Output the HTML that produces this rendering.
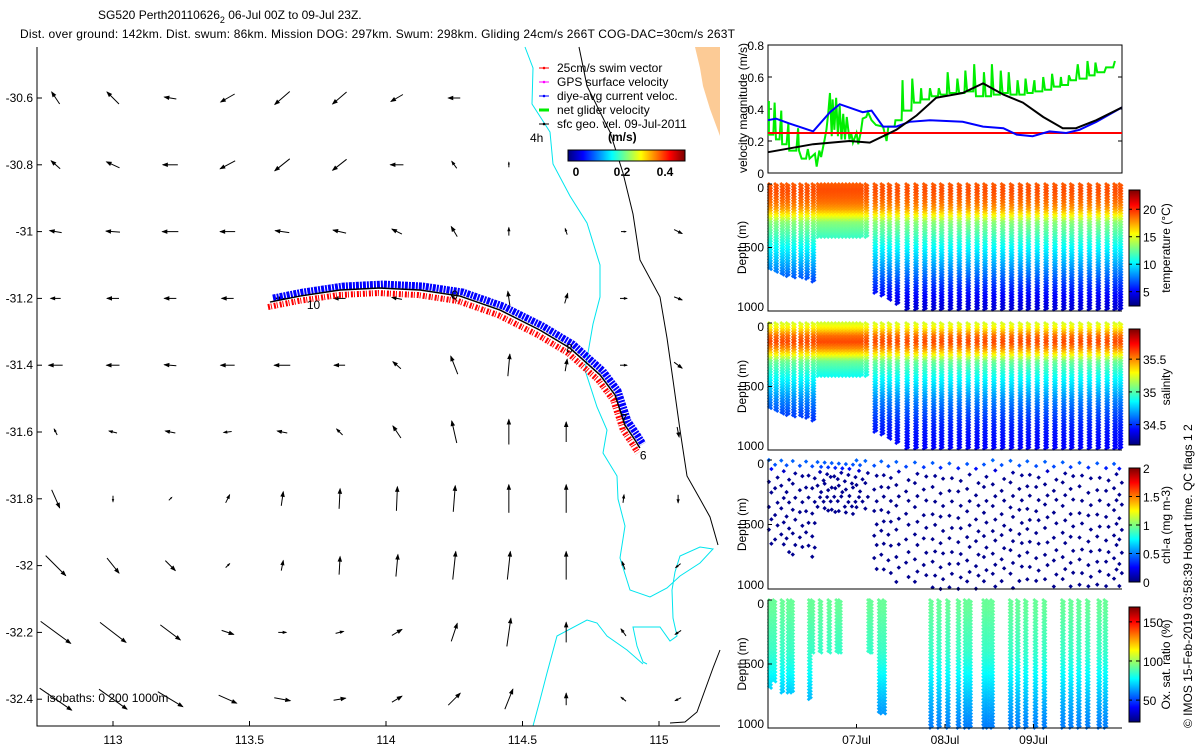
<!DOCTYPE html>
<html><head><meta charset="utf-8"><title>SG520 glider chart</title>
<style>
html,body{margin:0;padding:0;background:#fff;}
svg{display:block;font-family:"Liberation Sans",sans-serif;}
text{fill:#000;}
</style></head>
<body>
<svg id="fig" xmlns="http://www.w3.org/2000/svg" width="1200" height="750" viewBox="0 0 1200 750">
<rect x="0" y="0" width="1200" height="750" fill="#fff"/>
<text x="98" y="19" font-size="12">SG520 Perth20110626<tspan dy="4" font-size="9">2</tspan><tspan dy="-4"> 06-Jul 00Z to 09-Jul 23Z.</tspan></text>
<text x="20" y="38" font-size="12" textLength="715">Dist. over ground: 142km. Dist. swum: 86km. Mission DOG: 297km. Swum: 298km. Gliding 24cm/s 266T COG-DAC=30cm/s 263T</text>
<g id="map"></g>
<g id="right"></g>
<text transform="translate(1192,728) rotate(-90)" font-size="12">© IMOS 15-Feb-2019 03:58:39 Hobart time. QC flags 1  2</text>
</svg>
<script>
// ---------------- DATA ----------------
const gridLat = [-30.6,-30.8,-31.0,-31.2,-31.4,-31.6,-31.8,-32.0,-32.2,-32.4];
const gridLon = [112.79,113.0,113.21,113.42,113.62,113.83,114.04,114.25,114.45,114.66,114.87,115.07];
const geoU = [
 [-0.08,-0.12,-0.12,-0.14,-0.15,-0.14,-0.12,-0.12,-0.01,0,0,0],
 [-0.09,-0.13,-0.15,-0.15,-0.15,-0.14,-0.13,-0.05,0,0,0,0],
 [-0.12,-0.14,-0.16,-0.15,-0.14,-0.13,-0.10,-0.06,0,-0.02,0.05,0.08],
 [-0.10,-0.12,-0.12,-0.12,-0.14,-0.12,-0.10,-0.06,-0.02,0.03,0.07,0.08],
 [-0.14,-0.13,-0.12,-0.14,-0.16,-0.11,-0.08,-0.07,0.02,0.02,0.07,0.08],
 [-0.03,-0.08,-0.10,-0.08,-0.10,-0.06,-0.08,-0.05,0,0,0,0.02],
 [0.08,0,0.03,0.04,0.02,0.01,0.01,0.02,0,0,0.01,0],
 [0.20,0.12,0.10,0.04,0.02,0.01,0.02,0.03,0.03,0,-0.03,-0.05],
 [0.30,0.26,0.20,0.12,0.08,0.08,0.10,0.06,0.04,0,-0.05,-0.06],
 [0.32,0.28,0.25,0.18,0.16,0.12,0.10,0.12,0.08,0,-0.05,-0.06]];
const geoV = [
 [0.12,0.12,0.02,-0.08,-0.13,-0.12,-0.07,0,0,0,0,0],
 [0.08,0.06,0,-0.08,-0.12,-0.11,0,0.07,0.05,0,0,0],
 [0.02,0.01,0,0,0.02,0.03,0.05,0.10,0.08,0.06,0,-0.04],
 [0,0,0,0,0,0,0.02,0.06,0.14,0.10,0,-0.03],
 [0,0,0.01,0,0,0,0.07,0.18,0.22,0.12,0,-0.06],
 [0.06,0.02,0.02,-0.01,0.02,0.06,0.12,0.22,0.25,0.20,0,-0.10],
 [-0.18,-0.06,0.03,0.08,0.14,0.20,0.24,0.26,0.28,0.28,0.08,-0.08],
 [-0.20,-0.15,-0.10,0.04,0.10,0.18,0.22,0.28,0.28,0.28,0.08,-0.04],
 [-0.22,-0.20,-0.15,-0.04,0,0.02,0.06,0.18,0.28,0.20,0.07,-0.04],
 [-0.22,-0.20,-0.15,-0.08,-0.03,0.02,0.06,0.12,0.20,0.12,0.04,-0.03]];
const trackLon = [113.575,113.685,113.832,113.978,114.125,114.271,114.418,114.564,114.674,114.784,114.839,114.857,114.875,114.912,114.930];
const trackLat = [-31.211,-31.193,-31.175,-31.169,-31.175,-31.193,-31.235,-31.295,-31.349,-31.429,-31.489,-31.534,-31.579,-31.624,-31.648];
const dayLabels = ["10","9","8","7","6"];
const dayLon = [113.71,114.24,114.66,114.86,114.93];
const dayLat = [-31.22,-31.19,-31.35,-31.56,-31.67];
const geoT = [0,0.51,0.92,1.15,1.45,1.68,1.90,2.20,2.43,2.66,2.88,3.11,3.33,3.48,3.71,4.0];
const geoMag = [0.13,0.18,0.20,0.19,0.27,0.36,0.47,0.50,0.56,0.49,0.44,0.35,0.28,0.28,0.33,0.41];
const dacT = [0,0.09,0.24,0.51,0.70,0.81,1.07,1.17,1.30,1.45,1.60,1.83,2.20,2.43,2.66,2.81,2.99,3.18,3.37,3.52,3.71,4.0];
const dacMag = [0.33,0.34,0.31,0.26,0.38,0.43,0.38,0.39,0.29,0.29,0.32,0.33,0.32,0.29,0.28,0.24,0.23,0.26,0.25,0.27,0.32,0.41];
const netT = [0.01,0.01,0.06,0.075,0.09,0.13,0.15,0.16,0.21,0.23,0.24,0.32,0.34,0.35,0.38,0.43,0.45,0.47,0.53,0.55,0.58,0.60,0.64,0.66,0.68,0.70,0.72,0.73,0.75,0.77,0.79,0.81,0.83,0.85,0.87,0.89,0.92,0.94,0.96,1.00,1.02,1.05,1.07,1.11,1.13,1.17,1.22,1.30,1.34,1.36,1.43,1.44,1.51,1.52,1.53,1.62,1.63,1.65,1.72,1.73,1.74,1.82,1.83,1.85,1.92,1.93,1.95,2.02,2.03,2.05,2.13,2.14,2.16,2.22,2.23,2.25,2.32,2.33,2.35,2.43,2.44,2.46,2.52,2.53,2.55,2.62,2.63,2.65,2.71,2.72,2.74,2.81,2.82,2.84,2.90,2.91,2.93,2.99,3.01,3.02,3.10,3.11,3.13,3.20,3.21,3.23,3.30,3.31,3.32,3.39,3.40,3.42,3.48,3.50,3.52,3.60,3.61,3.63,3.69,3.70,3.72,3.80,3.82,3.90,3.92];
const netMag = [0.45,0.24,0.24,0.44,0.21,0.21,0.39,0.18,0.18,0.31,0.14,0.14,0.28,0.14,0.09,0.09,0.15,0.09,0.12,0.04,0.14,0.10,0.21,0.27,0.37,0.50,0.23,0.46,0.27,0.47,0.23,0.42,0.21,0.37,0.21,0.35,0.21,0.25,0.19,0.25,0.18,0.26,0.34,0.35,0.38,0.33,0.30,0.29,0.20,0.29,0.29,0.33,0.33,0.58,0.39,0.39,0.59,0.44,0.44,0.53,0.46,0.46,0.53,0.48,0.48,0.53,0.49,0.49,0.63,0.50,0.50,0.59,0.50,0.50,0.64,0.51,0.51,0.68,0.48,0.48,0.63,0.48,0.48,0.68,0.49,0.49,0.64,0.50,0.50,0.63,0.49,0.49,0.58,0.49,0.49,0.59,0.50,0.50,0.58,0.51,0.51,0.60,0.52,0.52,0.62,0.54,0.54,0.60,0.55,0.55,0.61,0.58,0.58,0.68,0.59,0.59,0.70,0.61,0.61,0.69,0.63,0.63,0.66,0.66,0.70];
const swimMag = [0.25,0.25];
const swimT = [0,4];
const velTicks = [0,0.2,0.4,0.6,0.8];
const diveT = [0.01,0.08,0.15,0.21,0.28,0.36,0.43,0.50,0.56,0.60,0.64,0.68,0.72,0.76,0.80,0.84,0.88,0.92,0.96,1.00,1.04,1.10,1.20,1.28,1.36,1.45,1.56,1.66,1.76,1.86,1.95,2.05,2.15,2.25,2.35,2.44,2.54,2.64,2.74,2.84,2.93,3.03,3.13,3.23,3.33,3.42,3.52,3.62,3.72,3.82,3.91,3.97];
const diveMax = [680,700,720,730,740,745,750,770,420,420,420,420,420,420,420,420,420,420,420,420,420,420,860,887,913,953,1000,1000,1000,1000,1000,1000,1000,1000,1000,1000,1000,1000,1000,1000,1000,1000,1000,1000,1000,1000,1000,1000,1000,1000,1000,1000];
const oxT = [0.01,0.06,0.15,0.22,0.26,0.46,0.49,0.58,0.68,0.77,0.80,1.13,1.15,1.25,1.30,1.83,1.92,2.02,2.14,2.22,2.27,2.43,2.47,2.52,2.73,2.81,2.90,3.01,3.11,3.32,3.41,3.50,3.60,3.73,3.80];
const oxMax = [690,640,730,730,730,780,420,420,420,420,420,420,420,890,890,1000,1000,1000,1000,1000,1000,1000,1000,1000,1000,1000,1000,1000,1000,1000,1000,1000,1000,1000,1000];
const profDepth = [0,50,100,150,200,250,300,400,500,600,700,800,900,1000];
const tempProf = [19.0,19.3,19.0,18.5,17.5,15.5,13.2,11.8,10.3,9.0,7.5,6.0,4.8,4.0];
const salProf = [35.22,35.35,35.55,35.62,35.5,35.3,35.05,34.9,34.78,34.65,34.55,34.47,34.43,34.40];
const chlProf = [0.45,0.40,0.05,0.03,0.03,0.03,0.03,0.03,0.03,0.03,0.03,0.03,0.03,0.03];
const oxProf = [92,92,91,90,89,88,87,85,81,76,71,66,62,58];
const dateTicks = [1,2,3];
const dateLabels = ["07Jul","08Jul","09Jul"];
const depthTicks = [0,500,1000];
const tempCbTicks = [5,10,15,20];
const salCbTicks = [34.5,35,35.5];
const chlCbTicks = [0,0.5,1,1.5,2];
const oxCbTicks = [50,100,150];
const mapLonTicks = [113,113.5,114,114.5,115];
const mapLatTicks = [-30.6,-30.8,-31,-31.2,-31.4,-31.6,-31.8,-32,-32.2,-32.4];
const legendLabels = ["25cm/s swim vector","GPS surface velocity","diye-avg current veloc.","net glider velocity","sfc geo. vel. 09-Jul-2011"];
const legendColors = ["#ff0000","#ff00ff","#0000ff","#00ee00","#000000"];

// ---------------- HELPERS ----------------
const NS="http://www.w3.org/2000/svg";
function mk(tag,attrs,parent){const e=document.createElementNS(NS,tag);for(const k in attrs)e.setAttribute(k,attrs[k]);parent.appendChild(e);return e;}
function jet(v){v=Math.max(0,Math.min(1,v));const c=x=>Math.round(255*Math.max(0,Math.min(1,1.5-Math.abs(x))));return `rgb(${c(4*v-3)},${c(4*v-2)},${c(4*v-1)})`;}
function prof(arr,d){for(let i=0;i<profDepth.length-1;i++){if(d<=profDepth[i+1]){const f=(d-profDepth[i])/(profDepth[i+1]-profDepth[i]);return arr[i]+f*(arr[i+1]-arr[i]);}}return arr[arr.length-1];}
const lonX = lon => 113 + (lon-113)*273;
const latY = lat => 98 + (-30.6-lat)*334;
const tX = t => 768 + t*88.5;

// ---------------- MAP ----------------
const map=document.getElementById('map');
let land=mk('path',{d:'M695,47 L720,47 L720,136 L710,109 L703,86 L700,68 Z',fill:'#fccb96'},map);


let iso1=mk('polyline',{points:'525,47 533,68 532,104 550,132 553,164 570,196 587,223 600,265 600,297 593,324 585,370 597,407 607,430 603,453 617,476 618,499 625,526 620,558 630,590 650,597 667,588 680,576 700,563 713,549 700,547 680,556 675,572 672,590 673,618 677,636 670,641 660,627 633,627 637,646 643,662 647,664',fill:'none',stroke:'#00e5ee','stroke-width':1},map);


let iso2=mk('polyline',{points:'533,726 540,700 547,673 557,636 587,620 597,623 607,636 627,650 643,664',fill:'none',stroke:'#00e5ee','stroke-width':1},map);


let coast=mk('polyline',{points:'579,47 587,86 610,132 623,173 633,214 640,260 660,297 667,338 673,380 680,430 687,476 700,499 710,517 718,545',fill:'none',stroke:'#000','stroke-width':1},map);


let coast2=mk('polyline',{points:'720,650 713,668 705,690 697,712 685,722 670,723',fill:'none',stroke:'#000','stroke-width':1},map);


for(let j=0;j<gridLat.length;j++){for(let k=0;k<gridLon.length;k++){
  const u=geoU[j][k]*100, v=-geoV[j][k]*100;
  if(Math.abs(u)+Math.abs(v)<1.5) continue;
  const cx=lonX(gridLon[k]), cy=latY(gridLat[j]);
  const x1=cx-u/2,y1=cy-v/2,x2=cx+u/2,y2=cy+v/2;
  const L=Math.hypot(u,v),ux=u/L,uy=v/L,h=Math.min(5,L*0.45);
  const g=mk('g',{},map);
  
  
  mk('line',{x1:x1,y1:y1,x2:x2,y2:y2,stroke:'#000','stroke-width':1},g);
  mk('polygon',{points:`${x2+ux*1},${y2+uy*1} ${x2-ux*h-uy*h*0.45},${y2-uy*h+ux*h*0.45} ${x2-ux*h+uy*h*0.45},${y2-uy*h-ux*h*0.45}`,fill:'#000'},g);
}}
const tp=trackLon.map((lo,i)=>[lonX(lo),latY(trackLat[i])]);
const ptsStr=(dx,dy)=>tp.map(p=>(p[0]+dx)+','+(p[1]+dy)).join(' ');
let red=mk('polyline',{points:ptsStr(-2,5),fill:'none',stroke:'#ff0000','stroke-width':6,'stroke-dasharray':'2 1 1 2'},map);


let blue=mk('polyline',{points:ptsStr(3,-4),fill:'none',stroke:'#0000ff','stroke-width':7,'stroke-dasharray':'3 1 2 1'},map);


let trk=mk('polyline',{points:ptsStr(0,0),fill:'none',stroke:'#000','stroke-width':1.5},map);


for(let i=0;i<dayLabels.length;i++){
  const t=mk('text',{x:lonX(dayLon[i]),y:latY(dayLat[i])+4,'font-size':12},map);t.textContent=dayLabels[i];
  
  
}
let ax=mk('path',{d:'M37,47 V726 H720',fill:'none',stroke:'#000','stroke-width':1},map);


mapLonTicks.forEach(lo=>{const x=lonX(lo);mk('line',{x1:x,y1:726,x2:x,y2:721,stroke:'#000'},map);
  const t=mk('text',{x:x,y:744,'font-size':12,'text-anchor':'middle'},map);t.textContent=String(lo);
  
  });
mapLatTicks.forEach(la=>{const y=latY(la);mk('line',{x1:37,y1:y,x2:42,y2:y,stroke:'#000'},map);
  const t=mk('text',{x:33,y:y+4,'font-size':12,'text-anchor':'end'},map);t.textContent=String(la);
  
  });
let isoT=mk('text',{x:47,y:702,'font-size':12},map);isoT.textContent='isobaths: 0   200   1000m';


legendLabels.forEach((lab,i)=>{const y=68+i*14;
  const g=mk('g',{},map);
  
  
  mk('line',{x1:539,y1:y,x2:549,y2:y,stroke:legendColors[i],'stroke-width':i==3?3:1},g);
  mk('circle',{cx:544,cy:y,r:1.3,fill:legendColors[i]},g);
  const t=mk('text',{x:557,y:y+4,'font-size':12},g);t.textContent=lab;});
let fh=mk('text',{x:530,y:142,'font-size':12},map);fh.textContent='4h';


let ms=mk('text',{x:608,y:141,'font-size':12,'font-weight':'bold'},map);ms.textContent='(m/s)';


const cbg=mk('g',{},map);


for(let i=0;i<117;i++)mk('rect',{x:568+i,y:150,width:1.2,height:11,fill:jet(i/116)},cbg);
mk('rect',{x:568,y:150,width:117,height:11,fill:'none',stroke:'#000'},cbg);
[[0,576],[0.2,622],[0.4,665]].forEach(a=>{const t=mk('text',{x:a[1],y:176,'font-size':12,'font-weight':'bold','text-anchor':'middle'},cbg);t.textContent=String(a[0]);});

// ---------------- RIGHT PANELS ----------------
const R=document.getElementById('right');
const vy=v=>173-v*160;
const vg=mk('g',{},R);


mk('rect',{x:768,y:45,width:354,height:128,fill:'none',stroke:'#000'},vg);
velTicks.forEach(v=>{const y=vy(v);mk('line',{x1:768,y1:y,x2:772,y2:y,stroke:'#000'},vg);mk('line',{x1:1118,y1:y,x2:1122,y2:y,stroke:'#000'},vg);
  const t=mk('text',{x:764,y:y+5,'font-size':12,'text-anchor':'end'},vg);t.textContent=String(v);});
const vlab=mk('text',{transform:'translate(747,108) rotate(-90)','font-size':12,'text-anchor':'middle'},vg);vlab.textContent='velocity magnitude (m/s)';


function series(T,V,color,w,name){const l=mk('polyline',{points:T.map((t,i)=>tX(t)+','+vy(V[i])).join(' '),fill:'none',stroke:color,'stroke-width':w},vg);
  
  }
series(netT,netMag,'#00ee00',2,'net-glider-velocity-line');
series(swimT,swimMag,'#ff0000',2,'swim-speed-line');
series(dacT,dacMag,'#0000ff',2,'dive-avg-current-line');
series(geoT,geoMag,'#000000',2,'sfc-geo-velocity-line');

function depthPanel(top,bottom,name,cbTop,cbBot,cbMin,cbMax,cbTicks,cbLabel,showDates){
  const g=mk('g',{},R);
  
  
  const dy=d=>top+d*(bottom-top)/1000;
  const marks=mk('g',{},g);
  mk('path',{d:`M768,${top} V${bottom} H1122`,fill:'none',stroke:'#000'},g);
  depthTicks.forEach(d=>{const y=dy(d);mk('line',{x1:768,y1:y,x2:772,y2:y,stroke:'#000'},g);
    const t=mk('text',{x:764,y:y+(d==0?8:d==1000?0:4),'font-size':12,'text-anchor':'end'},g);t.textContent=String(d);});
  const dl=mk('text',{transform:`translate(746,${(top+bottom)/2}) rotate(-90)`,'font-size':12,'text-anchor':'middle'},g);dl.textContent='Depth (m)';
  
  
  const cb=mk('g',{},g);
  
  
  const n=Math.ceil(cbBot-cbTop);
  for(let i=0;i<n;i++)mk('rect',{x:1129,y:cbTop+i,width:11,height:1.2,fill:jet(1-i/(n-1))},cb);
  mk('rect',{x:1129,y:cbTop,width:11,height:cbBot-cbTop,fill:'none',stroke:'#000'},cb);
  cbTicks.forEach(v=>{const y=cbBot-(v-cbMin)/(cbMax-cbMin)*(cbBot-cbTop);
    mk('line',{x1:1136,y1:y,x2:1140,y2:y,stroke:'#000'},cb);mk('line',{x1:1129,y1:y,x2:1132,y2:y,stroke:'#000'},cb);
    const t=mk('text',{x:1143,y:y+5,'font-size':12},cb);t.textContent=String(v);});
  const cl=mk('text',{transform:`translate(1170,${(cbTop+cbBot)/2}) rotate(-90)`,'font-size':12,'text-anchor':'middle'},cb);cl.textContent=cbLabel;
  if(showDates){dateTicks.forEach((d,i)=>{const x=tX(d);mk('line',{x1:x,y1:bottom,x2:x,y2:bottom-4,stroke:'#000'},g);
    const t=mk('text',{x:x,y:744,'font-size':12,'text-anchor':'middle'},g);t.textContent=dateLabels[i];
    
    });}
  return {marks,dy};
}
function dia(parent,x,y,c,r){mk('path',{d:`M${x-r},${y}L${x},${y-r}L${x+r},${y}L${x},${y+r}Z`,fill:c},parent);}
function scatter(P,T,M,arr,mn,mx,step){
  T.forEach((t,i)=>{const x=tX(t);
    for(let s=0;s<2;s++){for(let d=(s?step/2:0);d<=M[i];d+=step){
      const y=P.dy(d);dia(P.marks,x+(s?2.2:0),y,jet((prof(arr,d)-mn)/(mx-mn)),2.0);}}});
}
const PT=depthPanel(184,311,'temperature-panel',190,306,2.4,23.5,tempCbTicks,'temperature (°C)',false);
scatter(PT,diveT,diveMax,tempProf,2.4,23.5,22);
const PS=depthPanel(323,450,'salinity-panel',329,445,34.19,35.96,salCbTicks,'salinity',false);
scatter(PS,diveT,diveMax,salProf,34.19,35.96,22);
const PC=depthPanel(460,589,'chl-panel',468,582,0,2,chlCbTicks,'chl-a (mg m-3)',false);
diveT.forEach((t,i)=>{const x=tX(t);let d=(i*37)%70;let s=0;
  while(d<=diveMax[i]){dia(PC.marks,x+(s%2?2.5:0),PC.dy(d),jet(prof(chlProf,d)/2),2.2);d+=70+((i+s)*29)%45;s++;}});
const PO=depthPanel(600,728,'oxygen-panel',607,722,22,169,oxCbTicks,'Ox. sat. ratio (%)',true);
scatter(PO,oxT,oxMax,oxProf,22,169,25);
</script>
</body></html>
